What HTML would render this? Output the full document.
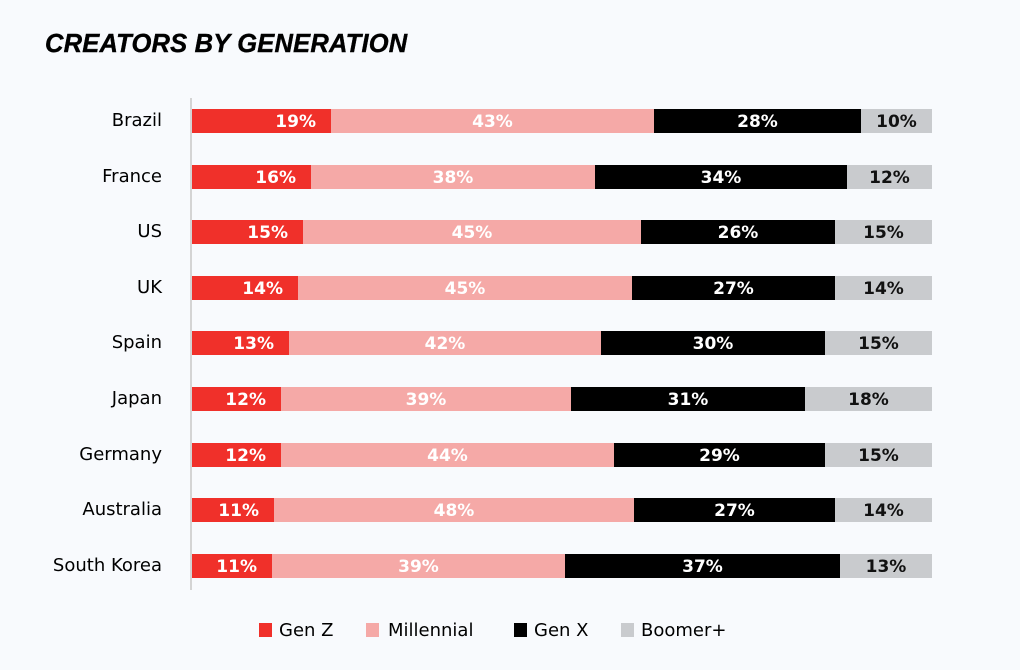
<!DOCTYPE html>
<html><head><meta charset="utf-8"><style>
body{margin:0;width:1020px;height:670px;background:#f8fafd;font-family:"DejaVu Sans","Liberation Sans",sans-serif;position:relative;overflow:hidden}
.t{position:absolute;left:45px;top:30px;font-family:"Liberation Sans",sans-serif;font-weight:bold;font-style:italic;font-size:25.5px;letter-spacing:0.2px;color:#000;-webkit-text-stroke:0.4px #000}
.ax{position:absolute;left:190px;top:98px;width:1.5px;height:492px;background:#d4d4d4}
.lb{position:absolute;right:858px;font-size:18px;color:#000;white-space:nowrap}
.s{position:absolute;height:24px;font-size:17px;font-weight:bold;line-height:26px;text-align:center;box-sizing:border-box}
.z{background:#f0302a;color:#fff;text-align:right;padding-right:15px}
.m{background:#f5a9a7;color:#fff}
.x{background:#000;color:#fff}
.b{background:#c9cbce;color:#111}
.lg{position:absolute;top:620px;font-size:18px;color:#000}
.sq{position:absolute;top:623px;width:13px;height:14px}
</style></head><body>
<div class="t">CREATORS BY GENERATION</div>
<div class="ax"></div>
<div id="c"></div>
<div class="sq" style="left:259px;background:#f0302a"></div><div class="lg" style="left:279px">Gen Z</div>
<div class="sq" style="left:366px;background:#f5a9a7"></div><div class="lg" style="left:388px">Millennial</div>
<div class="sq" style="left:514px;background:#000"></div><div class="lg" style="left:534px">Gen X</div>
<div class="sq" style="left:621px;background:#c9cbce"></div><div class="lg" style="left:641px">Boomer+</div>
<script>
var d=[["Brazil",331,654,861,19,43,28,10],["France",311,595,847,16,38,34,12],["US",303,641,835,15,45,26,15],["UK",298,632,835,14,45,27,14],["Spain",289,601,825,13,42,30,15],["Japan",281,571,805,12,39,31,18],["Germany",281,614,825,12,44,29,15],["Australia",274,634,835,11,48,27,14],["South Korea",272,565,840,11,39,37,13]];
var h="";
d.forEach(function(r,i){var y=109+i*55.6;
h+='<div class="lb" style="top:'+(y+1)+'px">'+r[0]+'</div>';
var e=[192,r[1],r[2],r[3],932],c=["z","m","x","b"];
for(var k=0;k<4;k++)h+='<div class="s '+c[k]+'" style="top:'+y+'px;left:'+e[k]+'px;width:'+(e[k+1]-e[k])+'px">'+r[4+k]+'%</div>';});
document.getElementById("c").innerHTML=h;
</script>
</body></html>
